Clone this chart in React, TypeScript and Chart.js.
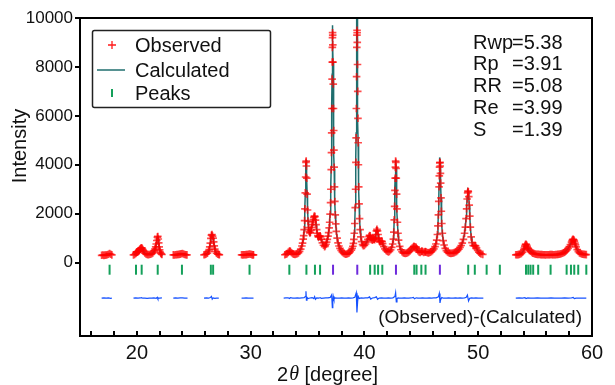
import React, { useEffect, useRef } from 'react';
import { Chart, registerables } from 'chart.js';
Chart.register(...registerables);

type Tri = [number, number, number]; // [2theta, observed, calculated]
type Pair = [number, number];

const seg1: Tri[] = [[16.9,300,305],[17.0,310,304],[17.1,298,304],[17.2,305,306],[17.3,312,310],[17.4,322,318],[17.5,345,338],[17.6,372,365],[17.7,340,345],[17.8,315,318]];
const seg2: Tri[] = [[19.7,318,320],[19.8,330,330],[19.9,372,365],[19.95,410,405],[20.0,428,425],[20.05,440,438],[20.1,452,455],[20.15,470,478],[20.2,500,505],[20.25,530,535],[20.3,560,565],[20.35,585,590],[20.4,605,600],[20.45,590,592],[20.5,545,550],[20.55,500,500],[20.6,455,452],[20.7,392,395],[20.8,352,355],[20.9,335,335],[21.0,326,328],[21.1,330,332],[21.2,342,340],[21.3,362,358],[21.4,398,395],[21.5,458,455],[21.55,505,500],[21.6,560,562],[21.65,640,645],[21.7,760,770],[21.75,905,920],[21.8,1045,1060],[21.84,1070,1080],[21.88,965,975],[21.92,805,800],[21.96,645,640],[22.0,520,522],[22.05,432,435],[22.1,382,380],[22.15,352,350],[22.2,332,332]];
const seg3: Tri[] = [[23.2,318,320],[23.3,314,318],[23.4,322,320],[23.5,326,324],[23.6,330,330],[23.7,336,338],[23.8,348,350],[23.9,362,365],[24.0,372,370],[24.1,350,352],[24.2,332,335],[24.3,320,322],[24.4,316,316]];
const seg4: Tri[] = [[25.9,320,320],[26.0,332,330],[26.1,352,350],[26.2,390,392],[26.3,462,460],[26.35,528,530],[26.4,640,645],[26.45,800,810],[26.5,995,1010],[26.55,1120,1130],[26.6,1150,1140],[26.65,1085,1090],[26.7,1000,1010],[26.75,848,855],[26.8,682,680],[26.85,552,548],[26.9,462,460],[27.0,382,380],[27.1,346,345],[27.2,330,330],[27.25,322,322]];
const seg5: Tri[] = [[29.2,320,318],[29.3,316,318],[29.4,322,320],[29.5,320,322],[29.6,326,325],[29.7,330,331],[29.8,342,340],[29.9,352,350],[30.0,340,342],[30.1,326,325],[30.2,318,320],[30.25,320,318]];
const seg6: Tri[] = [[33.0,322,320],[33.1,340,338],[33.2,368,370],[33.3,420,415],[33.4,462,455],[33.45,470,468],[33.5,448,452],[33.6,402,405],[33.7,362,360],[33.8,342,345],[33.9,338,340],[34.0,350,348],[34.1,368,370],[34.2,400,402],[34.3,458,460],[34.4,550,548],[34.5,680,675],[34.56,800,790],[34.62,960,950],[34.66,1100,1090],[34.7,1350,1330],[34.74,1720,1700],[34.77,2200,2150],[34.8,2850,2800],[34.83,3500,3500],[34.86,4100,4000],[34.88,4150,4200],[34.9,3950,4050],[34.93,3450,3500],[34.96,2800,2850],[35.0,2150,2200],[35.04,1700,1720],[35.08,1430,1440],[35.13,1270,1280],[35.2,1210,1200],[35.25,1240,1240],[35.3,1330,1320],[35.35,1440,1430],[35.4,1550,1540],[35.45,1660,1650],[35.5,1760,1760],[35.55,1850,1860],[35.6,1900,1920],[35.65,1880,1870],[35.7,1740,1760],[35.75,1550,1560],[35.8,1350,1360],[35.85,1200,1200],[35.9,1100,1100],[35.95,1050,1055],[36.0,1060,1060],[36.05,1080,1085],[36.1,1095,1090],[36.15,1050,1055],[36.2,960,955],[36.3,810,815],[36.4,710,715],[36.5,650,655],[36.56,690,700],[36.62,750,760],[36.68,840,845],[36.74,950,950],[36.8,1080,1080],[36.85,1230,1240],[36.9,1420,1430],[36.94,1650,1660],[36.98,1980,2000],[37.02,2450,2480],[37.05,3000,3050],[37.08,3800,3900],[37.1,4500,4600],[37.12,5300,5450],[37.14,6300,6450],[37.16,7500,7700],[37.17,8200,8500],[37.18,8800,9200],[37.19,9200,9600],[37.2,9400,9700],[37.21,9300,9500],[37.22,8900,9000],[37.24,8200,8200],[37.26,7300,7200],[37.28,6300,6200],[37.3,5400,5300],[37.32,4600,4500],[37.34,3900,3850],[37.37,3100,3100],[37.4,2500,2500],[37.44,1950,1950],[37.48,1580,1580],[37.53,1280,1270],[37.6,1000,1000],[37.68,810,810],[37.76,680,680],[37.85,580,580],[37.95,500,500],[38.05,440,438],[38.15,395,398],[38.25,360,362],[38.35,345,345],[38.45,350,348],[38.55,370,372],[38.65,400,398],[38.75,445,448],[38.85,510,515],[38.92,580,585],[38.98,670,680],[39.03,790,800],[39.07,950,960],[39.11,1200,1220],[39.15,1600,1640],[39.19,2250,2300],[39.22,3000,3100],[39.25,4100,4250],[39.27,5100,5300],[39.29,6300,6600],[39.31,7600,8000],[39.33,8800,9400],[39.34,9300,10000],[39.35,9500,10300],[39.36,9400,10100],[39.37,9000,9500],[39.39,8100,8400],[39.41,7000,7100],[39.43,5900,5900],[39.45,4900,4850],[39.47,4000,3950],[39.5,3100,3050],[39.53,2400,2380],[39.57,1800,1800],[39.62,1350,1350],[39.68,1050,1050],[39.75,860,860],[39.83,740,745],[39.9,690,695],[40.0,700,705],[40.1,760,758],[40.2,850,845],[40.3,950,955],[40.4,1060,1050],[40.45,1110,1100],[40.5,1100,1110],[40.55,1020,1030],[40.6,950,955],[40.7,920,925],[40.75,950,945],[40.8,980,975],[40.85,960,965],[40.9,935,940],[40.95,1000,995],[41.0,1150,1140],[41.05,1300,1290],[41.1,1360,1370],[41.15,1300,1320],[41.2,1150,1160],[41.25,1000,1005],[41.3,900,905],[41.35,850,852],[41.4,860,858],[41.5,880,878],[41.55,860,862],[41.6,780,782],[41.7,650,652],[41.8,560,558],[41.9,500,502],[42.0,462,460],[42.1,440,442],[42.2,458,460],[42.3,520,522],[42.4,620,625],[42.48,760,770],[42.54,960,980],[42.58,1250,1280],[42.62,1750,1800],[42.65,2300,2350],[42.68,2950,3000],[42.7,3450,3500],[42.72,3900,3950],[42.74,4150,4200],[42.76,4100,4150],[42.78,3850,3900],[42.8,3450,3500],[42.83,2800,2850],[42.86,2200,2200],[42.9,1650,1640],[42.95,1200,1190],[43.0,920,915],[43.1,660,655],[43.2,525,522],[43.3,445,445],[43.4,402,400],[43.5,382,380],[43.6,378,380],[43.7,390,388],[43.8,410,410],[43.9,440,442],[44.0,480,480],[44.1,538,540],[44.2,598,600],[44.3,640,635],[44.35,662,660],[44.4,650,655],[44.5,640,638],[44.55,620,622],[44.6,562,560],[44.7,482,485],[44.8,432,430],[44.9,420,422],[45.0,452,450],[45.05,470,468],[45.1,452,455],[45.2,420,422],[45.3,432,430],[45.35,450,448],[45.4,440,442],[45.5,412,410],[45.6,400,402],[45.7,410,410],[45.8,430,432],[45.9,460,462],[46.0,500,505],[46.1,560,565],[46.2,650,660],[46.28,760,775],[46.35,920,940],[46.41,1150,1180],[46.46,1500,1540],[46.5,1950,2000],[46.53,2500,2560],[46.56,3100,3200],[46.58,3550,3700],[46.6,3900,4050],[46.62,4080,4250],[46.64,4100,4300],[46.66,3950,4100],[46.68,3650,3750],[46.7,3250,3300],[46.73,2650,2650],[46.76,2100,2100],[46.8,1600,1600],[46.85,1200,1200],[46.92,900,900],[47.0,720,720],[47.1,580,580],[47.2,492,490],[47.3,432,430],[47.4,402,400],[47.5,382,385],[47.6,378,378],[47.7,380,382],[47.8,392,390],[47.9,410,412],[48.0,432,430],[48.1,460,462],[48.2,500,502],[48.3,552,550],[48.4,620,622],[48.5,700,705],[48.6,800,805],[48.7,950,960],[48.8,1200,1210],[48.87,1450,1470],[48.93,1800,1830],[48.98,2200,2250],[49.03,2600,2650],[49.07,2850,2880],[49.1,2920,2950],[49.13,2900,2900],[49.17,2700,2680],[49.21,2350,2320],[49.26,1900,1880],[49.31,1450,1440],[49.38,1050,1050],[49.45,820,820],[49.55,700,702],[49.65,680,682],[49.72,700,698],[49.78,680,682],[49.85,600,598],[49.95,500,502],[50.05,430,430],[50.15,385,385],[50.25,355,355],[50.4,335,335]];
const seg7: Tri[] = [[53.3,320,322],[53.4,324,322],[53.5,328,326],[53.6,335,334],[53.7,350,352],[53.8,378,380],[53.9,430,428],[54.0,520,515],[54.05,595,600],[54.1,675,680],[54.15,735,740],[54.2,752,748],[54.25,720,725],[54.3,662,665],[54.35,602,600],[54.4,560,565],[54.5,500,505],[54.6,462,460],[54.7,420,422],[54.8,390,392],[54.9,370,372],[55.0,352,350],[55.1,342,340],[55.2,338,340],[55.3,335,335],[55.4,330,332],[55.5,325,326],[55.6,326,324],[55.7,320,322],[55.8,322,320],[55.9,318,320],[56.0,320,320],[56.1,322,320],[56.2,320,322],[56.3,326,325],[56.4,330,328],[56.5,325,326],[56.6,322,322],[56.7,320,322],[56.8,326,325],[56.9,330,330],[57.0,336,335],[57.1,340,342],[57.2,350,350],[57.3,365,365],[57.4,380,382],[57.5,402,400],[57.6,430,432],[57.7,470,472],[57.8,520,522],[57.9,580,585],[58.0,650,655],[58.1,740,745],[58.2,840,845],[58.25,900,905],[58.3,940,945],[58.35,952,950],[58.4,930,935],[58.45,880,885],[58.5,800,805],[58.55,722,720],[58.6,640,642],[58.7,530,532],[58.8,452,450],[58.9,400,402],[59.0,370,372],[59.1,352,350],[59.2,340,342],[59.3,335,335],[59.4,330,330],[59.5,326,326]];
const scanSegments: Tri[][] = [seg1, seg2, seg3, seg4, seg5, seg6, seg7];

// (Observed)-(Calculated), drawn with its own offset below zero
const diff1: Pair[] = [[16.9,-1450],[17.1,-1440],[17.3,-1455],[17.5,-1445],[17.7,-1460],[17.8,-1450]];
const diff2: Pair[] = [[19.7,-1450],[19.9,-1440],[20.1,-1455],[20.3,-1445],[20.4,-1430],[20.5,-1455],[20.7,-1450],[20.9,-1460],[21.1,-1450],[21.3,-1455],[21.5,-1445],[21.7,-1460],[21.8,-1420],[21.85,-1480],[21.9,-1450],[22.0,-1455],[22.2,-1445]];
const diff3: Pair[] = [[23.2,-1450],[23.4,-1445],[23.6,-1455],[23.8,-1445],[24.0,-1440],[24.2,-1455],[24.45,-1450]];
const diff4: Pair[] = [[25.9,-1450],[26.1,-1445],[26.3,-1455],[26.45,-1430],[26.55,-1380],[26.62,-1490],[26.7,-1440],[26.85,-1460],[27.0,-1450],[27.2,-1448]];
const diff5: Pair[] = [[29.2,-1450],[29.4,-1455],[29.6,-1445],[29.8,-1450],[30.0,-1455],[30.25,-1450]];
const diff6: Pair[] = [[32.9,-1450],[33.1,-1445],[33.3,-1440],[33.4,-1470],[33.5,-1435],[33.7,-1450],[33.9,-1455],[34.1,-1445],[34.3,-1450],[34.5,-1440],[34.7,-1430],[34.82,-1380],[34.86,-1170],[34.9,-1530],[34.95,-1420],[35.05,-1470],[35.2,-1445],[35.4,-1430],[35.55,-1470],[35.62,-1390],[35.7,-1500],[35.8,-1440],[36.0,-1455],[36.1,-1430],[36.2,-1460],[36.4,-1450],[36.6,-1445],[36.8,-1440],[37.0,-1420],[37.12,-1320],[37.18,-1840],[37.22,-1600],[37.26,-1380],[37.32,-1500],[37.4,-1440],[37.6,-1455],[37.8,-1450],[38.0,-1445],[38.2,-1455],[38.4,-1450],[38.6,-1445],[38.8,-1450],[39.0,-1440],[39.15,-1420],[39.28,-1230],[39.34,-2040],[39.4,-1600],[39.45,-1380],[39.55,-1470],[39.7,-1445],[39.9,-1455],[40.1,-1445],[40.3,-1440],[40.45,-1400],[40.55,-1490],[40.7,-1445],[40.9,-1430],[41.05,-1400],[41.15,-1500],[41.3,-1450],[41.5,-1440],[41.7,-1455],[41.9,-1450],[42.1,-1445],[42.3,-1450],[42.5,-1440],[42.68,-1380],[42.74,-1230],[42.8,-1610],[42.86,-1480],[42.95,-1440],[43.1,-1455],[43.3,-1450],[43.5,-1445],[43.7,-1455],[43.9,-1450],[44.1,-1445],[44.3,-1420],[44.4,-1480],[44.55,-1440],[44.7,-1455],[44.9,-1450],[45.1,-1440],[45.3,-1455],[45.5,-1450],[45.7,-1445],[45.9,-1450],[46.1,-1445],[46.3,-1440],[46.5,-1400],[46.58,-1260],[46.64,-1650],[46.7,-1500],[46.8,-1430],[46.95,-1455],[47.2,-1450],[47.4,-1445],[47.6,-1455],[47.8,-1450],[48.0,-1445],[48.2,-1450],[48.4,-1445],[48.6,-1450],[48.8,-1440],[48.95,-1420],[49.05,-1330],[49.15,-1570],[49.25,-1460],[49.4,-1445],[49.6,-1450],[49.8,-1445],[50.0,-1450],[50.2,-1455],[50.45,-1450]];
const diff7: Pair[] = [[53.3,-1450],[53.6,-1445],[53.9,-1450],[54.1,-1430],[54.2,-1470],[54.35,-1445],[54.6,-1455],[54.9,-1450],[55.2,-1445],[55.5,-1450],[55.8,-1455],[56.1,-1450],[56.4,-1445],[56.7,-1450],[57.0,-1455],[57.3,-1450],[57.6,-1445],[57.9,-1450],[58.2,-1440],[58.35,-1425],[58.45,-1470],[58.6,-1450],[58.9,-1455],[59.2,-1450],[59.5,-1455]];
const diffSegments: Pair[][] = [diff1, diff2, diff3, diff4, diff5, diff6, diff7];

// Peak position marks
const peaksPhase1: number[] = [17.6,19.92,20.42,21.83,23.96,26.5,26.7,29.9,33.4,34.9,35.65,36.1,40.5,40.9,41.2,41.57,44.38,44.58,45.0,45.37,49.12,49.7,50.74,51.9,54.2,54.4,54.6,54.83,55.27,56.36,57.77,58.15,58.44,58.79,59.5];
const peaksPhase2: number[] = [37.24,39.37,42.77,46.63];
const peakMarkLevel = -290;

const xMin = 15, xMax = 60, yMin = -3000, yMax = 10000;
const xTickLabels: number[] = [20, 30, 40, 50, 60];
const xMinorTicks: number[] = [16,18,20,22,24,26,28,30,32,34,36,38,40,42,44,46,48,50,52,54,56,58];
const yTickLabels: number[] = [0, 2000, 4000, 6000, 8000, 10000];

const statLabels: string[] = ['Rwp', 'Rp', 'RR', 'Re', 'S'];
const statValues: string[] = ['5.38', '3.91', '5.08', '3.99', '1.39'];
const legendLabels: string[] = ['Observed', 'Calculated', 'Peaks'];

const FONT = '"Liberation Sans", Arial, sans-serif';
const RED = 'rgba(255,0,0,0.7)';
const TEAL = '#1f6e6e';
const BLUE = '#1652ff';
const GREEN = '#14a05a';
const PURPLE = '#6d2adc';

function withGaps<T>(segs: T[][], toPt: (p: T) => { x: number; y: number }) {
  const out: { x: number; y: number | null }[] = [];
  segs.forEach((s) => {
    s.forEach((p) => out.push(toPt(p)));
    const last = toPt(s[s.length - 1]);
    out.push({ x: last.x + 0.001, y: null });
  });
  return out;
}

const overlay = {
  id: 'overlay',
  afterDatasetsDraw(chart: any) {
    const { ctx, chartArea: a, scales } = chart;
    const xs = scales.x;
    ctx.save();
    // frame
    ctx.strokeStyle = '#000';
    ctx.lineWidth = 2;
    ctx.strokeRect(a.left, a.top, a.right - a.left, a.bottom - a.top);
    // inward minor ticks on bottom axis
    ctx.beginPath();
    xMinorTicks.forEach((v) => {
      const px = Math.round(xs.getPixelForValue(v));
      ctx.moveTo(px, a.bottom);
      ctx.lineTo(px, a.bottom - 5);
    });
    ctx.stroke();

    // legend box
    const lx = 92.5, ly = 30.5, lw = 178, lh = 77;
    ctx.fillStyle = '#fff';
    ctx.fillRect(lx, ly, lw, lh);
    ctx.strokeStyle = '#222';
    ctx.lineWidth = 1.5;
    ctx.beginPath();
    if ((ctx as any).roundRect) (ctx as any).roundRect(lx, ly, lw, lh, 2);
    else ctx.rect(lx, ly, lw, lh);
    ctx.stroke();
    const rows = [45, 70, 93];
    // observed symbol
    ctx.strokeStyle = 'rgba(255,0,0,0.9)';
    ctx.lineWidth = 1.3;
    ctx.beginPath();
    ctx.moveTo(108, rows[0]); ctx.lineTo(116, rows[0]);
    ctx.moveTo(112, rows[0] - 4); ctx.lineTo(112, rows[0] + 4);
    ctx.stroke();
    // calculated symbol
    ctx.strokeStyle = TEAL;
    ctx.lineWidth = 1.5;
    ctx.beginPath();
    ctx.moveTo(97, rows[1]); ctx.lineTo(125, rows[1]);
    ctx.stroke();
    // peaks symbol
    ctx.strokeStyle = GREEN;
    ctx.lineWidth = 2;
    ctx.beginPath();
    ctx.moveTo(112, rows[2] - 4); ctx.lineTo(112, rows[2] + 4);
    ctx.stroke();
    ctx.fillStyle = '#111';
    ctx.font = `20px ${FONT}`;
    ctx.textAlign = 'left';
    ctx.textBaseline = 'middle';
    legendLabels.forEach((t, i) => ctx.fillText(t, 135, rows[i] + 1));

    // statistics
    statLabels.forEach((t, i) => {
      const y = 43 + i * 21.8;
      ctx.fillText(t, 473, y);
      const w = ctx.measureText(t).width;
      ctx.fillText('=' + statValues[i], Math.max(512, 473 + w - 2), y);
    });

    // difference caption
    ctx.font = `19px ${FONT}`;
    ctx.textAlign = 'right';
    ctx.fillText('(Observed)-(Calculated)', 582, 318);

    // axis titles
    ctx.font = `20px ${FONT}`;
    ctx.save();
    ctx.translate(20, 146);
    ctx.rotate(-Math.PI / 2);
    ctx.textAlign = 'center';
    ctx.fillText('Intensity', 0, 0);
    ctx.restore();

    const p1 = '2', p2 = '\u03B8', p3 = ' [degree]';
    ctx.textAlign = 'left';
    ctx.font = `20px ${FONT}`;
    const w1 = ctx.measureText(p1).width;
    const w3 = ctx.measureText(p3).width;
    ctx.font = `italic 20px "Liberation Serif", serif`;
    const w2 = ctx.measureText(p2).width;
    let x0 = 327 - (w1 + w2 + w3) / 2;
    const ty = 375;
    ctx.font = `20px ${FONT}`;
    ctx.fillText(p1, x0, ty);
    x0 += w1 + 1;
    ctx.font = `italic 20px "Liberation Serif", serif`;
    ctx.fillText(p2, x0, ty);
    x0 += w2;
    ctx.font = `20px ${FONT}`;
    ctx.fillText(p3, x0, ty);
    ctx.restore();
  },
};

export default function App() {
  const ref = useRef<HTMLCanvasElement>(null);
  useEffect(() => {
    document.body.style.margin = '0';
    const canvas = ref.current;
    if (!canvas) return;
    const observed = scanSegments.flat().map((p) => ({ x: p[0], y: p[1] }));
    const calculated = withGaps(scanSegments, (p: Tri) => ({ x: p[0], y: p[2] }));
    const difference = withGaps(diffSegments, (p: Pair) => ({ x: p[0], y: p[1] }));
    const chart = new Chart(canvas, {
      type: 'scatter',
      data: {
        datasets: [
          {
            label: 'Observed',
            data: observed,
            pointStyle: 'cross',
            pointRadius: 3.8,
            pointBorderWidth: 1.7,
            borderColor: RED,
            backgroundColor: RED,
            order: 1,
          } as any,
          {
            label: 'Calculated',
            data: calculated,
            showLine: true,
            pointRadius: 0,
            borderColor: TEAL,
            borderWidth: 1.5,
            spanGaps: false,
            order: 2,
          } as any,
          {
            label: 'Difference',
            data: difference,
            showLine: true,
            pointRadius: 0,
            borderColor: BLUE,
            borderWidth: 1.2,
            spanGaps: false,
            order: 3,
          } as any,
          {
            label: 'Peaks',
            data: peaksPhase1.map((x) => ({ x, y: peakMarkLevel })),
            pointStyle: 'line',
            rotation: 90,
            pointRadius: 5,
            pointBorderWidth: 2,
            borderColor: GREEN,
            backgroundColor: GREEN,
            order: 4,
          } as any,
          {
            label: 'Peaks 2',
            data: peaksPhase2.map((x) => ({ x, y: peakMarkLevel })),
            pointStyle: 'line',
            rotation: 90,
            pointRadius: 5,
            pointBorderWidth: 2,
            borderColor: PURPLE,
            backgroundColor: PURPLE,
            order: 4,
          } as any,
        ],
      },
      options: {
        responsive: false,
        animation: false,
        events: [],
        layout: { padding: { left: 0, right: 23, top: 18, bottom: 0 } },
        plugins: { legend: { display: false }, tooltip: { enabled: false }, title: { display: false } },
        scales: {
          x: {
            type: 'linear',
            min: xMin,
            max: xMax,
            afterBuildTicks: (s: any) => { s.ticks = xTickLabels.map((v) => ({ value: v })); },
            afterFit: (s: any) => { s.height = 49; },
            ticks: { font: { family: FONT, size: 20 }, color: '#111', padding: 5, maxRotation: 0, autoSkip: false, callback: (v: any) => String(v) },
            grid: { display: false, drawTicks: false },
            border: { display: false },
          },
          y: {
            type: 'linear',
            min: yMin,
            max: yMax,
            afterBuildTicks: (s: any) => { s.ticks = yTickLabels.map((v) => ({ value: v })); },
            afterFit: (s: any) => { s.width = 80; },
            ticks: { font: { family: FONT, size: 17 }, color: '#111', padding: 2, callback: (v: any) => String(v) },
            grid: { display: true, drawOnChartArea: false, drawTicks: true, tickLength: 5, color: '#000', lineWidth: 2 },
            border: { display: false },
          },
        },
      } as any,
      plugins: [overlay],
    });
    return () => chart.destroy();
  }, []);
  return (
    <div style={{ width: 615, height: 385 }}>
      <canvas ref={ref} width={615} height={385} style={{ display: 'block' }} />
    </div>
  );
}
